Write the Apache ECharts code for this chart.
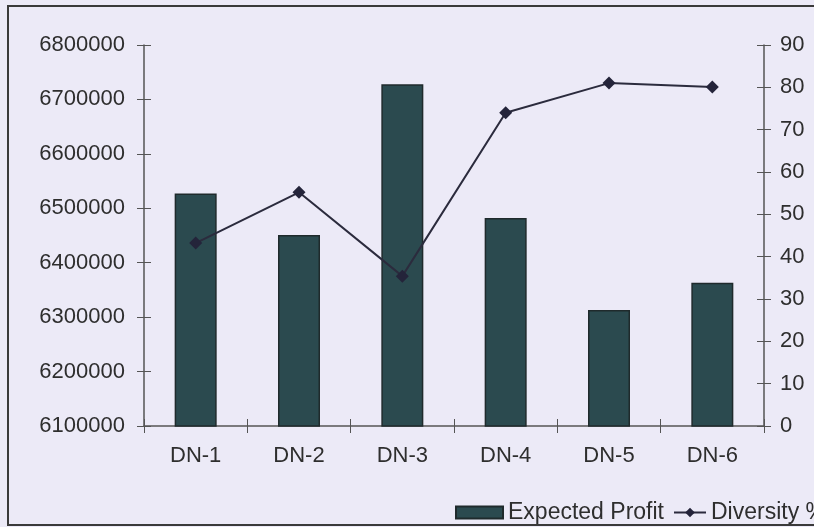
<!DOCTYPE html>
<html>
<head>
<meta charset="utf-8">
<script src="https://cdn.jsdelivr.net/npm/echarts@6/dist/echarts.min.js"></script>
<style>
html,body{margin:0;padding:0;background:#ECEAF7;}
#c{width:814px;height:527px;}
</style>
</head>
<body>
<div id="c"></div>
<script>
var categories = ['DN-1','DN-2','DN-3','DN-4','DN-5','DN-6'];
var expectedProfit = [6527000, 6451000, 6728000, 6482000, 6313000, 6363000];
var diversity = [43.2, 55.2, 35.4, 74.0, 81.0, 80.1];

var FONT = 'Liberation Sans, Arial, sans-serif';
var TXT = '#2e2e2e';
var AX = '#555555';
var FS = 22;
var labelStyle = {fontFamily: FONT, fontSize: FS, color: TXT};

var chart = echarts.init(document.getElementById('c'), null, {renderer: 'canvas'});
chart.setOption({
  backgroundColor: '#ECEAF7',
  animation: false,
  grid: {left: 144, right: 50, top: 45, bottom: 101, containLabel: false},
  graphic: [{
    type: 'rect', silent: true, z: -1,
    shape: {x: 8, y: 6, width: 830, height: 519},
    style: {fill: 'none', stroke: '#3a3a3a', lineWidth: 2}
  }],
  legend: [{
    data: [{name: 'Expected Profit', icon: 'rect'}],
    left: 450, top: 496,
    itemWidth: 47, itemHeight: 12, itemGap: 8,
    textStyle: {fontFamily: FONT, fontSize: 23, color: TXT}
  }, {
    data: ['Diversity %'],
    left: 668, top: 496,
    itemWidth: 32, itemHeight: 12,
    textStyle: {fontFamily: FONT, fontSize: 23, color: TXT}
  }],
  xAxis: [{
    type: 'category', data: categories, position: 'bottom',
    axisLine: {show: true, lineStyle: {color: AX, width: 1.5}},
    axisTick: {show: true, inside: false, length: 7, lineStyle: {color: AX}},
    axisLabel: Object.assign({margin: 19}, labelStyle)
  }, {
    type: 'category', data: categories, position: 'bottom',
    axisLine: {show: false},
    axisTick: {show: true, inside: true, length: 7, lineStyle: {color: AX}},
    axisLabel: {show: false}
  }],
  yAxis: [{
    type: 'value', position: 'left', min: 6100000, max: 6800000, interval: 100000,
    axisLine: {show: true, lineStyle: {color: AX, width: 1.5}},
    axisTick: {show: true, inside: false, length: 7, lineStyle: {color: AX}},
    axisLabel: Object.assign({margin: 19, formatter: function (v) { return String(v); }}, labelStyle),
    splitLine: {show: false}
  }, {
    type: 'value', position: 'right', min: 0, max: 90, interval: 10,
    axisLine: {show: true, lineStyle: {color: AX, width: 1.5}},
    axisTick: {show: true, inside: false, length: 7, lineStyle: {color: AX}},
    axisLabel: Object.assign({margin: 16}, labelStyle),
    splitLine: {show: false}
  }, {
    type: 'value', position: 'left', min: 6100000, max: 6800000, interval: 100000,
    axisLine: {show: false},
    axisTick: {show: true, inside: true, length: 7, lineStyle: {color: AX}},
    axisLabel: {show: false}, splitLine: {show: false}
  }, {
    type: 'value', position: 'right', min: 0, max: 90, interval: 10,
    axisLine: {show: false},
    axisTick: {show: true, inside: true, length: 7, lineStyle: {color: AX}},
    axisLabel: {show: false}, splitLine: {show: false}
  }],
  series: [{
    name: 'Expected Profit', type: 'bar', xAxisIndex: 0, yAxisIndex: 0,
    data: expectedProfit, barWidth: 42,
    itemStyle: {color: '#2B4A4F', borderColor: '#1f2a2c', borderWidth: 1.5}
  }, {
    name: 'Diversity %', type: 'line', xAxisIndex: 0, yAxisIndex: 1,
    data: diversity, symbol: 'diamond', symbolSize: [13, 13],
    lineStyle: {color: '#2b2b3d', width: 2},
    itemStyle: {color: '#24243a'},
    z: 5
  }]
});
</script>
</body>
</html>
